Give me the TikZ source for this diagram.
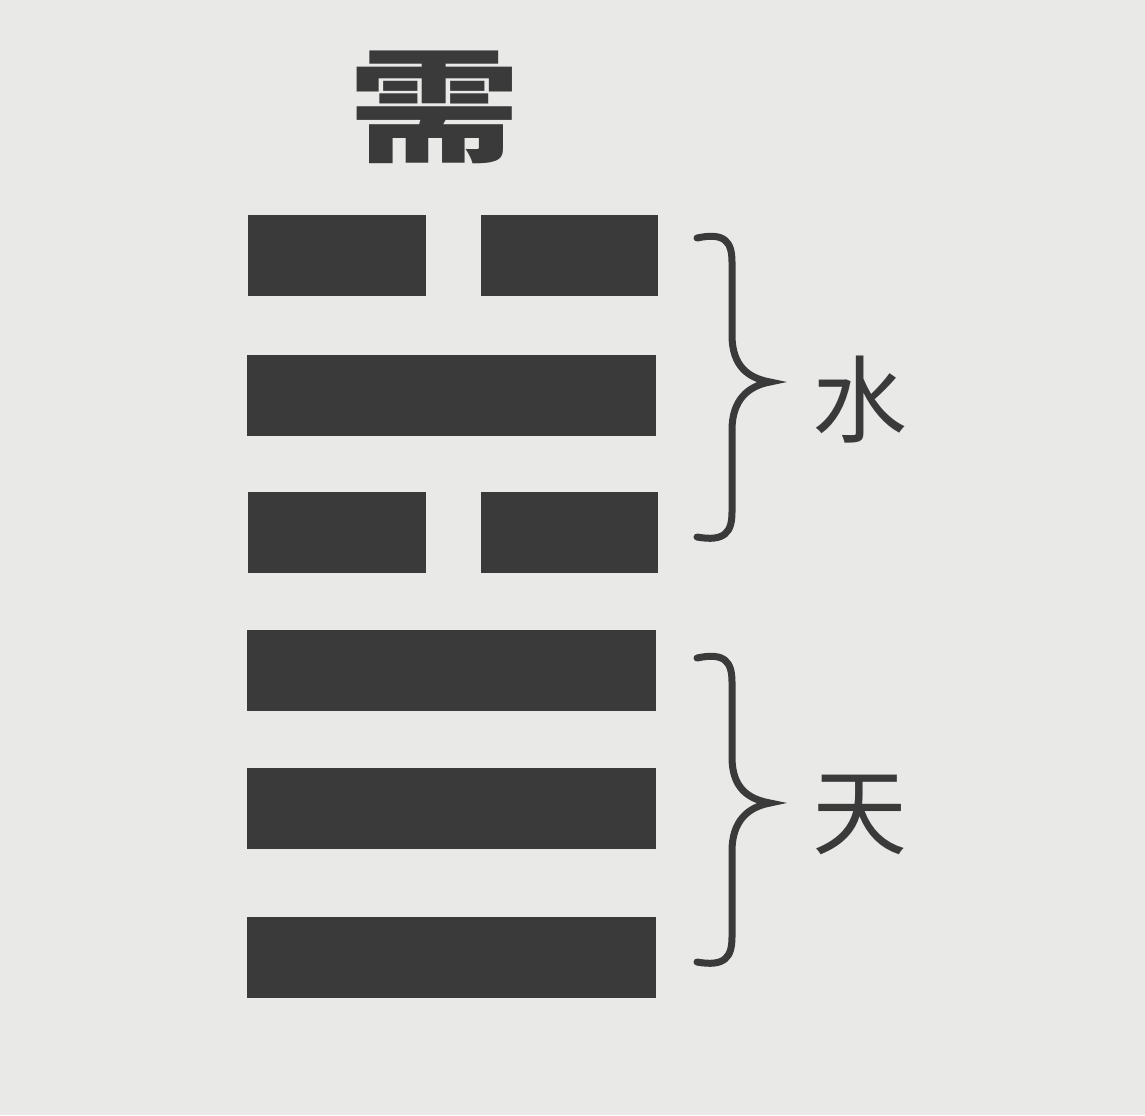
\documentclass[tikz,border=0pt]{standalone}
\usepackage{fontspec}
\newfontfamily\cjk{Noto Sans CJK SC}
\usepackage{tikz}
\definecolor{paper}{RGB}{233,233,232}
\definecolor{ink}{RGB}{58,58,58}
\tikzset{
  yao/.style={fill=ink},
  gua/.style={draw=ink, line width=0.7mm, line cap=round},
  label/.style={font=\cjk\fontsize{27}{27}\selectfont, text=ink, inner sep=0pt}
}

\begin{document}
\begin{tikzpicture}[x=0.1mm, y=-0.1mm]
% Paper
\fill[paper] (0,0) rectangle (1145,1115);
\useasboundingbox (0,0) rectangle (1145,1115);

% Name of the hexagram
\node (name) [label, font=\cjk\bfseries\fontsize{35}{35}\selectfont, xscale=1.4, transform shape] at (435,107) {需};

% Broken lines
\foreach \y in {215,492} {
  \fill[yao] (248,\y) rectangle ++(178,81);
  \fill[yao] (481,\y) rectangle ++(177,81);
}

% Solid lines
\foreach \y in {355,630,768,917}
  \fill[yao] (247,\y) rectangle ++(409,81);

% Upper trigram
\draw[gua] (697,238) .. controls (725,232) and (732,242) .. (732,262) -- (732,335)
  .. controls (732,366) and (748,378) .. (770,382)
  .. controls (748,386) and (732,400) .. (732,430) -- (732,512)
  .. controls (732,532) and (725,542) .. (697,537);
\node (water) [label] at (860,400) {水};

% Lower trigram
\draw[gua] (697,658) .. controls (725,652) and (732,662) .. (732,682) -- (732,757)
  .. controls (732,788) and (748,799) .. (770,803)
  .. controls (748,807) and (732,821) .. (732,851) -- (732,937)
  .. controls (732,957) and (725,967) .. (697,962);
\node (heaven) [label] at (860,815) {天};
\end{tikzpicture}
\end{document}
